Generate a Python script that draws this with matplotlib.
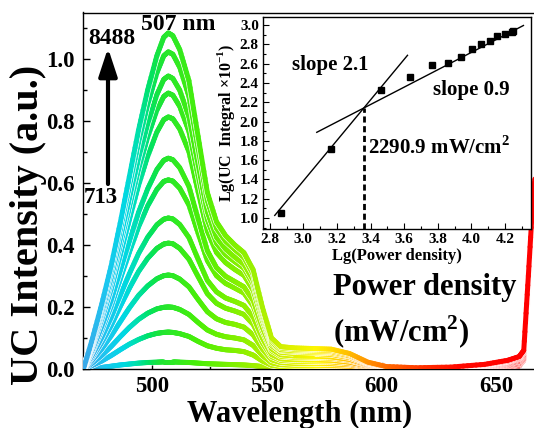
import numpy as np
import matplotlib
matplotlib.use("Agg")
import matplotlib.pyplot as plt
from matplotlib.collections import LineCollection
from matplotlib.colors import LinearSegmentedColormap, Normalize
from matplotlib.ticker import MultipleLocator, FormatStrFormatter

plt.rcParams['font.family'] = ['Liberation Serif', 'DejaVu Serif']
plt.rcParams['font.weight'] = 'bold'
plt.rcParams['mathtext.fontset'] = 'custom'
plt.rcParams['mathtext.rm'] = 'Liberation Serif:bold'
plt.rcParams['mathtext.bf'] = 'Liberation Serif:bold'
plt.rcParams['axes.linewidth'] = 1.0

# ---------------- emission spectra ----------------
wavelength = [470, 474, 478, 482, 486, 490, 494, 498, 502, 505, 507, 509, 512, 516,
              520, 524, 528, 532, 536, 540, 544, 548, 552, 556, 562, 570, 578, 586,
              594, 602, 615, 630, 645, 655, 660, 662, 664, 666, 667]

spec_8488 = [0.00, 0.10, 0.21, 0.33, 0.47, 0.62, 0.77, 0.90, 1.01, 1.07, 1.084, 1.075, 1.03, 0.93,
             0.75, 0.57, 0.475, 0.43, 0.40, 0.375, 0.32, 0.20, 0.10, 0.072, 0.068, 0.066, 0.064, 0.05,
             0.022, 0.008, 0.004, 0.006, 0.015, 0.028, 0.040, 0.060, 0.30, 0.55, 0.62]
spec_2 = [0, .094, .200, .314, .448, .590, .731, .853, .955, 1.010, 1.023, 1.015, .973, .879,
          .711, .543, .454, .412, .385, .360, .306, .191, .094, .068, .064, .062, .060, .047,
          .020, .007, .004, .006, .014, .026, .038, .058, .30, .55, .62]
spec_3 = [0, .088, .186, .293, .419, .550, .679, .791, .885, .934, .945, .937, .899, .813,
          .660, .507, .425, .387, .361, .338, .287, .179, .088, .062, .060, .058, .056, .043,
          .019, .007, .004, .006, .014, .025, .036, .055, .29, .54, .61]
spec_4 = [0, .083, .176, .278, .398, .522, .644, .748, .835, .879, .89, .883, .847, .766,
          .624, .482, .406, .369, .346, .325, .274, .169, .083, .060, .056, .054, .052, .041,
          .018, .006, .004, .005, .013, .024, .034, .052, .29, .54, .61]
spec_5 = [0, .076, .162, .256, .367, .481, .592, .686, .764, .804, .813, .807, .774, .701,
          .572, .445, .376, .343, .321, .302, .254, .156, .076, .054, .050, .050, .047, .037,
          .016, .006, .003, .005, .012, .022, .032, .050, .28, .53, .60]
spec_6 = [0, .065, .138, .220, .316, .412, .505, .581, .643, .673, .68, .675, .649, .589,
          .484, .382, .327, .299, .282, .265, .221, .134, .065, .046, .042, .041, .039, .031,
          .014, .005, .003, .005, .011, .020, .029, .046, .28, .53, .60]
spec_7 = [0, .059, .126, .201, .289, .376, .458, .526, .579, .605, .61, .606, .583, .529,
          .438, .350, .301, .276, .261, .245, .203, .123, .059, .041, .038, .037, .035, .028,
          .012, .005, .003, .004, .010, .018, .026, .043, .27, .52, .59]
spec_8 = [0, .047, .102, .165, .237, .307, .372, .425, .465, .483, .487, .484, .466, .424,
          .354, .286, .249, .229, .218, .205, .168, .100, .047, .033, .030, .029, .028, .022,
          .010, .004, .003, .004, .009, .016, .024, .040, .27, .52, .59]
spec_9 = [0, .040, .086, .139, .201, .260, .314, .357, .389, .403, .406, .404, .389, .354,
          .298, .243, .212, .196, .187, .176, .144, .085, .040, .028, .025, .024, .023, .018,
          .008, .004, .002, .004, .008, .014, .021, .037, .26, .51, .58]
spec_10 = [0, .030, .065, .106, .152, .197, .237, .268, .291, .301, .303, .301, .290, .265,
           .224, .185, .162, .150, .144, .135, .110, .065, .030, .021, .018, .018, .017, .014,
           .006, .003, .002, .003, .007, .012, .018, .034, .26, .51, .58]
spec_11 = [0, .020, .044, .072, .104, .134, .160, .180, .194, .199, .2, .199, .192, .176,
           .150, .126, .112, .104, .100, .094, .076, .044, .020, .014, .012, .012, .011, .009,
           .004, .002, .002, .003, .006, .010, .016, .032, .25, .50, .57]
spec_12 = [0, .012, .026, .043, .062, .080, .095, .107, .115, .118, .119, .118, .114, .105,
           .089, .075, .067, .062, .060, .056, .045, .026, .012, .008, .007, .007, .007, .005,
           .002, .001, .001, .002, .005, .008, .013, .030, .25, .50, .57]
spec_713 = [0, .002, .005, .009, .013, .016, .019, .021, .022, .023, .023, .023, .022, .021,
            .019, .017, .016, .015, .014, .013, .011, .008, .005, .004, .004, .004, .004, .003,
            .002, .001, .001, .002, .004, .006, .010, .028, .24, .49, .56]

spectra = [spec_713, spec_12, spec_11, spec_10, spec_9, spec_8, spec_7,
           spec_6, spec_5, spec_4, spec_3, spec_2, spec_8488]

# ---------------- inset: integrated intensity ----------------
lg_power = [2.87, 3.163, 3.465, 3.637, 3.766, 3.861, 3.937, 4.002, 4.06, 4.11, 4.155, 4.199, 4.24, 4.25]
lg_uc = [1.05, 1.72, 2.33, 2.46, 2.585, 2.61, 2.665, 2.75, 2.80, 2.83, 2.886, 2.91, 2.93, 2.94]
slope_low, slope_high = 2.1, 0.9
knee_power = 2290.9
knee_uc = 2.14
low_range = [2.83, 3.62]
high_range = [3.08, 4.31]

# wavelength -> display colour
_stops = [(470, "#3aa8e8"), (480, "#1cc6f0"), (488, "#00d8e2"), (494, "#00e0a8"),
          (499, "#00e266"), (504, "#1ee434"), (508, "#2ae82a"), (520, "#48ee08"),
          (535, "#7cf000"), (548, "#a8f000"), (558, "#d4f000"), (572, "#fff600"),
          (585, "#ffc400"), (595, "#ff9000"), (605, "#ff6400"), (620, "#ff3000"),
          (635, "#ff0800"), (665, "#ff0000")]
spectrum_cmap = LinearSegmentedColormap.from_list(
    "visible", [((w - 470) / 195, c) for w, c in _stops])
wl_norm = Normalize(470, 665)

W, H = 534, 428
fig = plt.figure(figsize=(W / 100, H / 100), dpi=100)


def fx(px):
    return px / W


def fy(py):
    return 1 - py / H


ax = fig.add_axes([fx(83), fy(369), (535 - 83) / W, (369 - 12.5) / H])


def draw_spectrum(ax, x, y, lw, z, sub=8):
    """Thick line coloured by wavelength, with a thin white rim."""
    x = np.asarray(x, float)
    y = np.asarray(y, float)
    px, py = [x[0]], [y[0]]
    for i in range(len(x) - 1):
        t = np.linspace(0, 1, sub + 1)[1:]
        px.extend(x[i] + t * (x[i + 1] - x[i]))
        py.extend(y[i] + t * (y[i + 1] - y[i]))
    pts = np.column_stack([px, py])
    segs = np.stack([pts[:-1], pts[1:]], axis=1)
    mid = 0.5 * (pts[:-1, 0] + pts[1:, 0])
    ax.plot(x, y, color="white", lw=lw + 1.0, solid_capstyle="round",
            solid_joinstyle="round", zorder=z)
    lc = LineCollection(segs, colors=spectrum_cmap(wl_norm(mid)), linewidths=lw,
                        capstyle="round", joinstyle="round", zorder=z + 0.5)
    ax.add_collection(lc)


for k, s in enumerate(spectra):
    draw_spectrum(ax, wavelength, s, 3.6, 2 + k)

ax.set_xlim(469.8, 666.9)
ax.set_ylim(0, 1.15)
ax.xaxis.set_major_locator(MultipleLocator(50))
ax.xaxis.set_minor_locator(MultipleLocator(25))
ax.yaxis.set_major_locator(MultipleLocator(0.2))
ax.yaxis.set_minor_locator(MultipleLocator(0.1))
ax.tick_params(which="both", direction="in", top=False, right=False, labelsize=16.5)
ax.tick_params(which="major", length=5, width=1)
ax.tick_params(which="minor", length=3, width=1)
ax.tick_params(axis="x", pad=5)
ax.tick_params(axis="y", pad=6)
ax.yaxis.set_major_formatter(FormatStrFormatter("%.1f"))
for lab in ax.get_xticklabels() + ax.get_yticklabels():
    lab.set_fontweight("bold")
ax.set_xlabel("Wavelength (nm)", fontsize=22, fontweight="bold")
ax.xaxis.set_label_coords((300 - 83) / 452, -(414 - 369) / 356.5)
ax.xaxis.label.set_va("center")
ax.set_ylabel("UC Intensity (a.u.)", fontsize=29, fontweight="bold")
ax.yaxis.set_label_coords(-(83 - 29) / 452, (369 - 225) / 356.5)
ax.yaxis.label.set_va("center")

# power annotations
fig.text(fx(112), fy(38), "8488", fontsize=17, fontweight="bold", ha="center", va="center")
fig.text(fx(178), fy(25), "507 nm", fontsize=17, fontweight="bold", ha="center", va="center")
fig.text(fx(101), fy(197), "713", fontsize=16.5, fontweight="bold", ha="center", va="center")
ax.annotate("", xy=(fx(108), fy(48)), xycoords="figure fraction",
            xytext=(fx(108), fy(184)), textcoords="figure fraction",
            arrowprops=dict(arrowstyle="-|>,head_length=0.85,head_width=0.28",
                            mutation_scale=20, lw=3, color="black",
                            shrinkA=0, shrinkB=0))
fig.text(fx(425), fy(288), "Power density", fontsize=22, fontweight="bold",
         ha="center", va="center")
fig.text(fx(401), fy(332), r"(mW/cm$^{\mathbf{2}}$)", fontsize=22, fontweight="bold",
         ha="center", va="center")

# ---------------- inset ----------------
ins = fig.add_axes([fx(263), fy(229), (531 - 263) / W, (229 - 17) / H])
ins.set_facecolor("white")
ins.plot(lg_power, lg_uc, "s", color="black", ms=4.2, zorder=4)
knee_x = np.log10(knee_power)
lx = np.array(low_range)
hx = np.array(high_range)
ins.plot(lx, knee_uc + slope_low * (lx - knee_x), color="black", lw=1.0, zorder=3)
ins.plot(hx, knee_uc + slope_high * (hx - knee_x), color="black", lw=1.0, zorder=3)
ins.set_xlim(2.76, 4.355)
ins.set_ylim(0.886, 3.083)
ins.plot([knee_x, knee_x], [0.886, knee_uc], color="black", lw=2.0,
         linestyle=(0, (2.2, 1.3)), zorder=3)
ins.xaxis.set_major_locator(MultipleLocator(0.2))
ins.xaxis.set_minor_locator(MultipleLocator(0.1))
ins.yaxis.set_major_locator(MultipleLocator(0.2))
ins.yaxis.set_minor_locator(MultipleLocator(0.1))
ins.tick_params(which="both", direction="in", top=False, right=False, labelsize=11, pad=3)
ins.tick_params(which="major", length=4, width=0.8)
ins.tick_params(which="minor", length=2, width=0.8)
ins.xaxis.set_major_formatter(FormatStrFormatter("%.1f"))
ins.yaxis.set_major_formatter(FormatStrFormatter("%.1f"))
for lab in ins.get_xticklabels() + ins.get_yticklabels():
    lab.set_fontweight("bold")
ins.set_xlabel("Lg(Power density)", fontsize=12, fontweight="bold", labelpad=1)
ins.set_ylabel(r"Lg(UC  Integral ×10$^{\mathbf{-1}}$)", fontsize=11.5, fontweight="bold",
               labelpad=2)

fig.text(fx(292), fy(65), "slope 2.1", fontsize=15, fontweight="bold", ha="left", va="center")
fig.text(fx(433), fy(90), "slope 0.9", fontsize=15, fontweight="bold", ha="left", va="center")
fig.text(fx(368), fy(148), r"2290.9 mW/cm$^{\mathbf{2}}$", fontsize=15, fontweight="bold",
         ha="left", va="center")

fig.savefig("out.png", dpi=100, facecolor="white")
